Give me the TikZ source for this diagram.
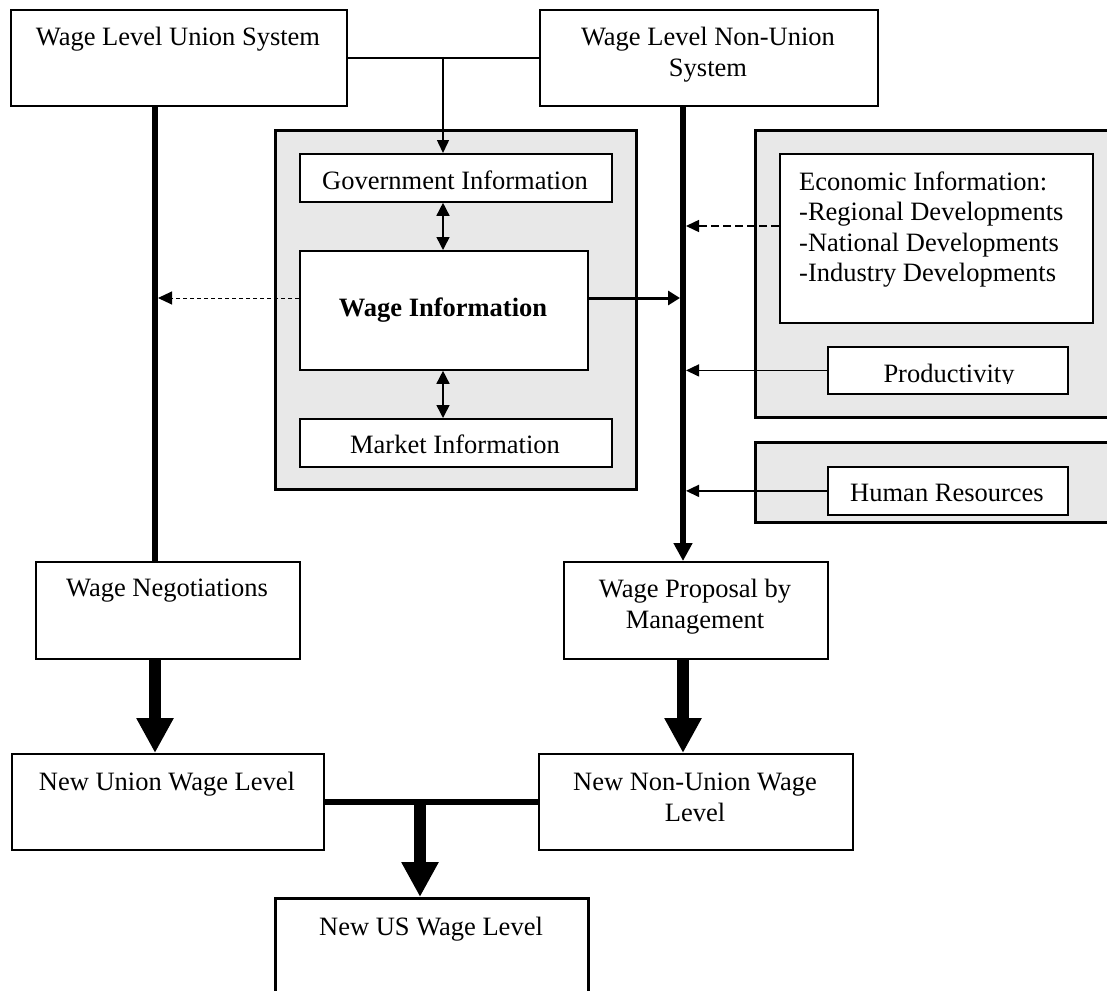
\documentclass[tikz,border=0pt]{standalone}
\usepackage{fontspec}
\setmainfont{Liberation Serif}
\usetikzlibrary{arrows.meta,calc}
\definecolor{panel}{RGB}{232,232,232}
\newcommand\tstrut{\rule{0pt}{20pt}}
\begin{document}
\begin{tikzpicture}[x=1pt,y=-1pt,
  box/.style={draw=black, line width=1.8pt, fill=white, inner sep=0pt, anchor=north west},
  panelbox/.style={draw=black, line width=3pt, fill=panel},
  txt/.style={inner sep=0pt, align=center, anchor=north, font=\fontsize{26.5}{31}\selectfont},
  thinline/.style={line width=1.5pt},
  smallhead/.style={-{Triangle[length=13pt,width=12pt]}},
  dblhead/.style={{Triangle[length=13pt,width=13pt]}-{Triangle[length=13pt,width=13pt]}},
  thickline/.style={line width=6pt},
  bigarrow/.style={line width=12pt, -{Triangle[length=35pt,width=35pt]}},
]
\useasboundingbox (0,0) rectangle (1107,990);
\clip (0,0) rectangle (1107,990);
\fill[white] (0,0) rectangle (1107,990);

% panels
\draw[panelbox] (275,130) rectangle (636,489);
\draw[panelbox] (755,130) rectangle (1120,417);
\draw[panelbox] (755,442) rectangle (1120,522);

% boxes
\node[box, minimum width=336pt, minimum height=96pt] (uni) at (10,9) {};
\node[box, minimum width=338pt, minimum height=96pt] (nonuni) at (539,9) {};
\node[box, minimum width=312pt, minimum height=48pt] (gov) at (299,153) {};
\node[box, minimum width=288pt, minimum height=119pt] (wage) at (299,250) {};
\node[box, minimum width=312pt, minimum height=48pt] (market) at (299,418) {};
\node[box, minimum width=313pt, minimum height=169pt] (econ) at (779,153) {};
\node[box, minimum width=240pt, minimum height=47pt] (prod) at (827,346) {};
\node[box, minimum width=240pt, minimum height=48pt] (hr) at (827,466) {};
\node[box, minimum width=264pt, minimum height=97pt] (neg) at (35,561) {};
\node[box, minimum width=264pt, minimum height=97pt] (prop) at (563,561) {};
\node[box, minimum width=312pt, minimum height=96pt] (nuw) at (11,753) {};
\node[box, minimum width=314pt, minimum height=96pt] (nnuw) at (538,753) {};
\node[box, minimum width=313pt, minimum height=120pt, line width=2.5pt] (us) at (274,897) {};

% texts
\node[txt] (tuni) at (178,25) {\tstrut Wage Level Union System};
\node[txt] (tnonuni) at (708,25) {\tstrut Wage Level Non-Union\\System};
\node[txt] (tgov) at (455,169) {\tstrut Government Information};
\node[txt, font=\fontsize{26.5}{31}\selectfont\bfseries] (twage) at (443,296) {\tstrut Wage Information};
\node[txt] (tmarket) at (455,433) {\tstrut Market Information};
\node[txt, anchor=north west, align=left, font=\fontsize{26.5}{30.5}\selectfont] (tecon) at (799,170)
  {\tstrut Economic Information:\\-Regional Developments\\-National Developments\\-Industry Developments};
\begin{scope}
\clip (827,346) rectangle (1067,383);
\node[txt] (tprod) at (949,362) {\tstrut Productivity};
\end{scope}
\node[txt] (thr) at (947,481) {\tstrut Human Resources};
\node[txt] (tneg) at (167,576) {\tstrut Wage Negotiations};
\node[txt] (tprop) at (695,577) {\tstrut Wage Proposal by\\Management};
\node[txt] (tnuw) at (167,770) {\tstrut New Union Wage Level};
\node[txt] (tnnuw) at (695,770) {\tstrut New Non-Union Wage\\Level};
\node[txt] (tus) at (431,915) {\tstrut New US Wage Level};

% helper coordinates
\coordinate (j1) at (443,57);
\coordinate (lx) at (155,0);
\coordinate (lxe) at (158,0);
\coordinate (rx) at (683,0);
\coordinate (rxl) at (686,0);
\coordinate (rxw) at (680,0);
\coordinate (wy) at (0,298);
\coordinate (ey) at (0,226);
\coordinate (cx) at (420,0);

% connectors
\draw[thinline] (uni.east) -- (nonuni.west);
\draw[thinline, smallhead] (j1) -- (j1 |- gov.north);
\draw[thinline, dblhead] (j1 |- gov.south) -- (j1 |- wage.north);
\draw[thinline, dblhead] (j1 |- wage.south) -- (j1 |- market.north);
\draw[thickline] (lx |- uni.south) -- (lx |- neg.north);
\draw[thickline, -{Triangle[length=18pt,width=18pt]}] (rx |- nonuni.south) -- (rx |- prop.north);
\draw[line width=1pt, dash pattern=on 4pt off 3pt, -{Triangle[length=14pt,width=13pt]}] (wy -| wage.west) -- (wy -| lxe);
\draw[line width=3pt, -{Triangle[length=12pt,width=14pt]}] (wy -| wage.east) -- (wy -| rxw);
\draw[thinline, dash pattern=on 8pt off 4pt, -{Triangle[length=13pt,width=12pt]}] (ey -| econ.west) -- (ey -| rxl);
\draw[thinline, smallhead] (prod.west) -- (prod.west -| rxl);
\draw[thinline, smallhead] (hr.west) -- (hr.west -| rxl);
\draw[bigarrow] (lx |- neg.south) -- (lx |- nuw.north);
\draw[bigarrow] (rx |- prop.south) -- (rx |- nnuw.north);
\draw[thickline] (nuw.east) -- (nnuw.west);
\draw[bigarrow] (cx |- nuw.east) -- (cx |- us.north);
\end{tikzpicture}
\end{document}
